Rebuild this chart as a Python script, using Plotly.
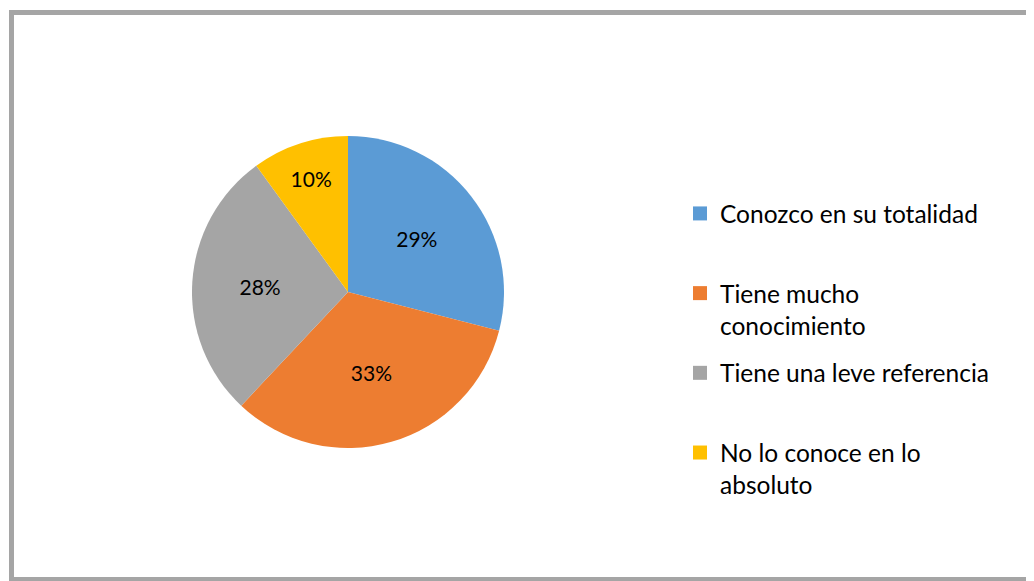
import plotly.graph_objects as go

categories = ["Conozco en su totalidad", "Tiene mucho conocimiento",
              "Tiene una leve referencia", "No lo conoce en lo absoluto"]
legend_labels = ["Conozco en su totalidad<br> ", "Tiene mucho<br>conocimiento",
                 "Tiene una leve referencia<br> ", "No lo conoce en lo<br>absoluto"]
values = [29, 33, 28, 10]
colors = ["#5B9BD5", "#ED7D31", "#A5A5A5", "#FFC000"]

# page body adds an 8px offset; figure sized to fit the window
OFF = 8
W, H = 1034 - OFF, 581 - OFF


def px(x):
    return (x - OFF) / W


def py(y):
    return 1 - (y - OFF) / H


fig = go.Figure()
fig.add_trace(go.Pie(
    labels=categories, values=values, sort=False, direction="clockwise",
    rotation=0, textinfo="percent", textposition="inside",
    insidetextfont=dict(color="#000000", size=21),
    marker=dict(colors=colors, line=dict(width=0)),
    domain=dict(x=[px(190), px(506)], y=[py(448), py(136)]),
    hoverinfo="label+percent", showlegend=False,
))

for lab, col in zip(legend_labels, colors):
    fig.add_trace(go.Scatter(
        x=[None], y=[None], mode="markers", name=lab, legendgroup=lab,
        marker=dict(symbol="square", size=14, color=col), hoverinfo="skip",
    ))

fig.update_layout(
    width=W, height=H,
    margin=dict(l=0, r=0, t=0, b=0),
    paper_bgcolor="white", plot_bgcolor="white",
    xaxis=dict(visible=False), yaxis=dict(visible=False),
    font=dict(family="Lato, Open Sans, sans-serif", size=20, color="#000000"),
    legend=dict(x=px(680), y=py(191), xanchor="left", yanchor="top",
                font=dict(size=24.5), tracegroupgap=13, valign="top",
                traceorder="grouped", bgcolor="rgba(0,0,0,0)"),
    shapes=[dict(type="rect", xref="paper", yref="paper",
                 x0=px(11.5), x1=px(1035.5), y0=py(579.5), y1=py(12.5),
                 line=dict(color="#A5A5A5", width=5))],
)

fig.write_html("out.html")
